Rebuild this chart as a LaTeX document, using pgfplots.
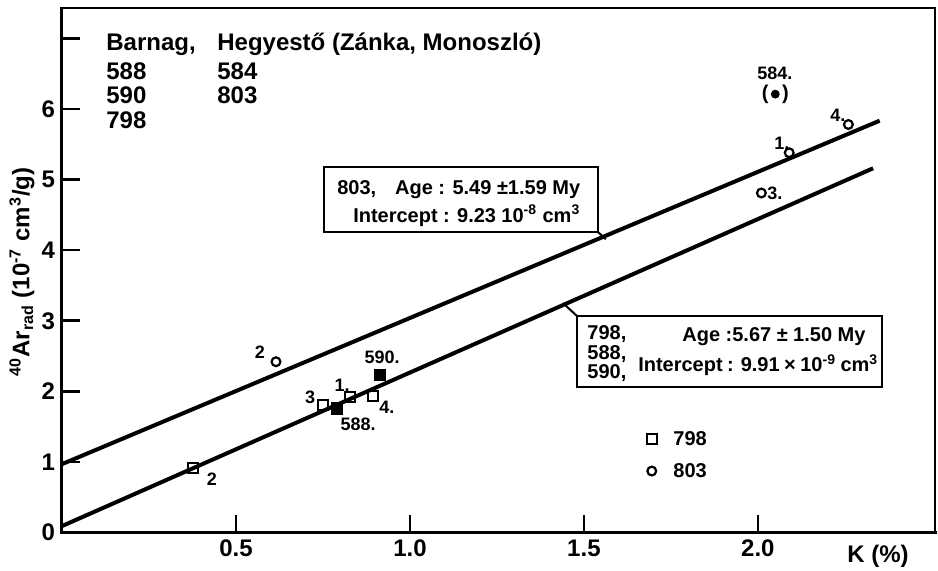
\documentclass[border=0pt]{standalone}
\usepackage{fontspec}
\setmainfont{Liberation Sans}
\usepackage{pgfplots}
\pgfplotsset{compat=1.18}
\newcommand{\fs}[1]{\bfseries\fontsize{#1}{#1}\selectfont}
\begin{document}
\begin{tikzpicture}[x=1pt,y=1pt]
\path[use as bounding box] (-31,-18.7) rectangle (438,266.3);
\begin{axis}[
  at={(0,0)}, anchor=south west, scale only axis,
  width=436.5pt, height=262.3pt,
  xmin=0, xmax=2.509, ymin=0, ymax=7.43,
  axis line style={line width=1pt},
  tick style={line width=1.3pt, black},
  major tick length=9pt,
  tick align=inside,
  xtick={0.5,1,1.5,2}, xticklabels={0.5,1.0,1.5,2.0},
  ytick={0,1,2,3,4,5,6,7}, yticklabels={0,1,2,3,4,5,6,{}},
  xtick pos=bottom, ytick pos=left,
  tick label style={font=\fs{12}},
  /pgf/number format/assume math mode=true,
  clip=false,
  ylabel={\textsuperscript{40}Ar\textsubscript{rad} (10\textsuperscript{-7} cm\textsuperscript{3}/g)},
  ylabel style={at={(axis description cs:-0.0458,0.497)}, anchor=center, font=\fs{12}},
]
% thicker left and bottom frame
\draw[line width=1.5pt, line cap=rect] (axis cs:0,7.43) -- (axis cs:0,0) -- (axis cs:2.509,0);
% regression lines
\addplot[line width=2pt] coordinates {(0,0.97) (2.35,5.834)};
\addplot[line width=2pt] coordinates {(0,0.093) (2.331,5.16)};
% 798 open squares
\addplot[only marks, mark=square, mark size=2.5pt, mark options={line width=1.1pt}] coordinates {(0.377,0.915) (0.75,1.81) (0.828,1.92) (0.893,1.93)};
% 588, 590 filled squares
\addplot[only marks, mark=square*, mark size=2.8pt] coordinates {(0.79,1.76) (0.914,2.23)};
% 803 open circles
\addplot[only marks, mark=o, mark size=2.2pt, mark options={line width=1.1pt}] coordinates {(0.615,2.42) (2.09,5.38) (2.26,5.78) (2.01,4.81)};
% 584 filled circle
\addplot[only marks, mark=*, mark size=2pt] coordinates {(2.05,6.21)};
% legend marks
\addplot[only marks, mark=square, mark size=2.5pt, mark options={line width=1.1pt}] coordinates {(1.695,1.325)};
\addplot[only marks, mark=o, mark size=2.2pt, mark options={line width=1.1pt}] coordinates {(1.695,0.872)};

% header text
\node[anchor=base west, inner sep=0, font=\fs{12}] at (axis cs:0.1264,6.835) {Barnag,};
\node[anchor=base west, inner sep=0, font=\fs{12}] at (axis cs:0.4454,6.835) {Hegyestő (Zánka, Monoszló)};
\node[anchor=base west, inner sep=0, font=\fs{12}] at (axis cs:0.1264,6.424) {588};
\node[anchor=base west, inner sep=0, font=\fs{12}] at (axis cs:0.1264,6.084) {590};
\node[anchor=base west, inner sep=0, font=\fs{12}] at (axis cs:0.1264,5.730) {798};
\node[anchor=base west, inner sep=0, font=\fs{12}] at (axis cs:0.4454,6.424) {584};
\node[anchor=base west, inner sep=0, font=\fs{12}] at (axis cs:0.4454,6.084) {803};

% box 803
\draw[line width=1pt] (axis cs:0.753,4.258) rectangle (axis cs:1.540,5.178);
\draw[line width=1pt] (axis cs:1.540,4.258) -- (axis cs:1.563,4.156);
\node[anchor=base west, inner sep=0, font=\fs{10}] at (axis cs:0.790,4.782) {\makebox[121.5pt][l]{803,\hfill Age : 5.49 ±1.59 My}};
\node[anchor=base west, inner sep=0, font=\fs{10}] at (axis cs:0.836,4.399) {\makebox[113.5pt][s]{Intercept : 9.23 10\textsuperscript{-8} cm\textsuperscript{3}}};

% box 798
\draw[line width=1pt] (axis cs:1.480,2.062) rectangle (axis cs:2.356,3.068);
\draw[line width=1pt] (axis cs:1.480,3.068) -- (axis cs:1.440,3.25);
\node[anchor=base west, inner sep=0, font=\fs{10}] at (axis cs:1.509,2.728) {798,};
\node[anchor=base west, inner sep=0, font=\fs{10}] at (axis cs:1.509,2.445) {588,};
\node[anchor=base west, inner sep=0, font=\fs{10}] at (axis cs:1.509,2.176) {590,};
\node[anchor=base west, inner sep=0, font=\fs{10}] at (axis cs:1.782,2.713) {\makebox[91.5pt][s]{Age :5.67 ± 1.50 My}};
\node[anchor=base west, inner sep=0, font=\fs{10}] at (axis cs:1.655,2.275) {\makebox[120pt][s]{Intercept : 9.91 × 10\textsuperscript{-9} cm\textsuperscript{3}}};

% legend text
\node[anchor=west, inner sep=0, font=\fs{10}] at (axis cs:1.756,1.325) {798};
\node[anchor=west, inner sep=0, font=\fs{10}] at (axis cs:1.756,0.872) {803};

% point labels
\node[inner sep=0, font=\fs{9}] at (axis cs:0.431,0.759) {2};
\node[inner sep=0, font=\fs{9}] at (axis cs:0.713,1.92) {3};
\node[inner sep=0, font=\fs{9}] at (axis cs:0.805,2.09) {1.};
\node[inner sep=0, font=\fs{9}] at (axis cs:0.934,1.78) {4.};
\node[inner sep=0, font=\fs{9}] at (axis cs:0.851,1.538) {588.};
\node[inner sep=0, font=\fs{9}] at (axis cs:0.920,2.487) {590.};
\node[inner sep=0, font=\fs{9}] at (axis cs:0.569,2.557) {2};
\node[inner sep=0, font=\fs{9}] at (axis cs:2.069,5.52) {1.};
\node[inner sep=0, font=\fs{9}] at (axis cs:2.230,5.915) {4.};
\node[inner sep=0, font=\fs{9}] at (axis cs:2.049,4.81) {3.};
\node[inner sep=0, font=\fs{9}] at (axis cs:2.049,6.51) {584.};
\node[inner sep=0, font=\fs{10}] at (axis cs:2.05,6.21) {(\hspace{6.7pt})};

% x label
\node[inner sep=0, font=\fs{12}] at (axis cs:2.345,-0.331) {K (\%)};
\end{axis}
\end{tikzpicture}
\end{document}
